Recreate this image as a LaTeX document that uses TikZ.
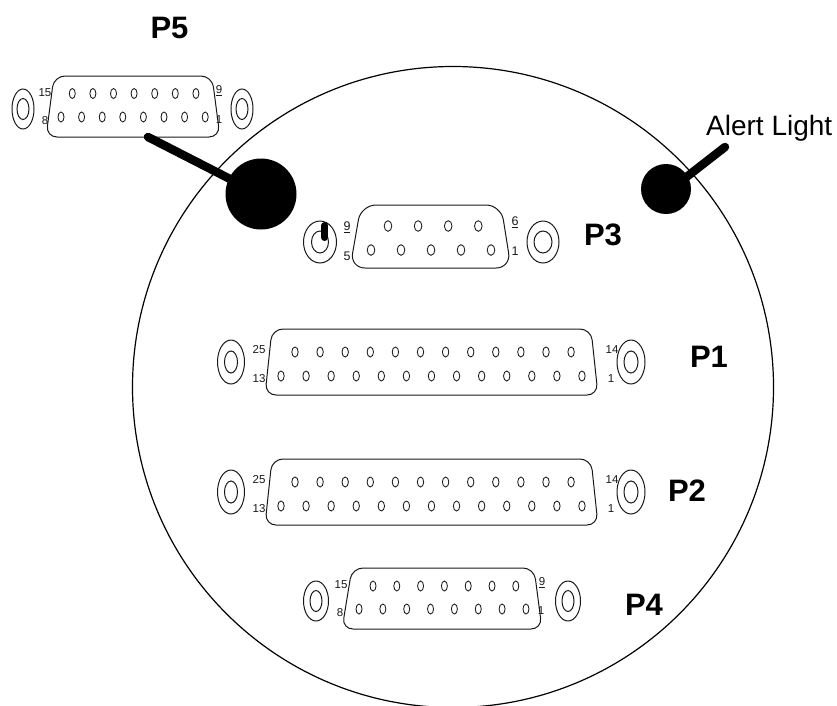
\documentclass[tikz,border=0pt]{standalone}
\usepackage{fontspec}
\setmainfont{Liberation Sans}
\tikzset{
  x=1pt,y=-1pt,
  shell/.style={draw=black!90,line width=1pt,rounded corners=#1},
  pin/.style={draw=black!90,line width=0.85pt},
  tiny/.style={inner sep=0pt,font=\fontsize{11.5}{13}\selectfont,text=black!90},
  tinybig/.style={inner sep=0pt,font=\fontsize{12.5}{14}\selectfont,text=black!90},
  plabel/.style={inner sep=0pt,font=\fontsize{31}{33}\bfseries\selectfont},
  cord/.style={line width=8.5pt,line cap=round},
  mount/.style={draw=black!90,line width=1pt},
}
% #1 TLx #2 TRx #3 BRx #4 BLx #5 top #6 bottom #7 radius
\newcommand{\shellbody}[7]{\draw[shell=#7] (#1,#5) -- (#2,#5) -- (#3,#6) -- (#4,#6) -- cycle;}
% #1 first x #2 step #3 count-1 #4 y #5 x radius #6 y radius
\newcommand{\pinrow}[6]{\foreach \k in {0,...,#3}{\draw[pin] ({#1+\k*#2},#4) ellipse [x radius=#5,y radius=#6];}}
% #1 x #2 y #3 rx #4 ry #5 inner rx #6 inner ry
\newcommand{\mountpt}[6]{\draw[mount] (#1,#2) ellipse [x radius=#3,y radius=#4]; \draw[mount] (#1,#2) ellipse [x radius=#5,y radius=#6];}
\begin{document}
\begin{tikzpicture}
\useasboundingbox (0,0) rectangle (837,705);
\begin{scope}
\clip (0,0) rectangle (837,705);
\draw[line width=1.2pt] (453,387) circle [radius=320.5];
\end{scope}
% P5
\shellbody{54}{212}{220}{46}{76}{137}{11}
\pinrow{72.3}{20.6}{6}{93.5}{3}{5}
\pinrow{61}{20.6}{7}{117}{3}{5}
\mountpt{23}{109}{11}{20}{6}{10.5}
\mountpt{242}{109}{11}{20}{6}{10.5}
\node[tiny] (p5a) at (45,93) {15};
\node[tiny] (p5b) at (45,121) {8};
\node[tiny] (p5c) at (219,91) {\underline{9}};
\node[tiny] (p5d) at (219,120) {1};
\node[plabel] (p5) at (169.5,28) {P5};
% big button and cords
\fill (261,194) circle [radius=35.5];
\draw[cord] (148,137) -- (232,180);
\fill (666,189) circle [radius=25];
\draw[cord] (725,147) -- (680,182);
\node[inner sep=0pt,anchor=base west,font=\fontsize{28}{30}\selectfont] (alert) at (706,135) {Alert Light};
% P3
\shellbody{361}{501}{511}{350}{205}{268}{15}
\pinrow{388}{30.1}{3}{226}{3.8}{5.3}
\pinrow{371}{30}{4}{250}{3.8}{5.3}
\mountpt{320}{242}{16.5}{21}{8.5}{11}
\mountpt{543}{242}{16}{21}{9}{11}
\draw[line width=7pt,line cap=round] (324.7,225.5) -- (324.7,237.5);
\node[tinybig] (p3a) at (347,227) {\underline{9}};
\node[tinybig] (p3b) at (347,256) {5};
\node[tinybig] (p3c) at (515,222) {\underline{6}};
\node[tinybig] (p3d) at (515,251) {1};
\node[plabel] (p3) at (603,235) {P3};
% P1
\shellbody{272}{591}{598}{265}{329}{395}{11}
\pinrow{295}{25.1}{11}{352}{3.2}{5}
\pinrow{281}{25.08}{12}{376}{3.2}{5}
\mountpt{231}{362}{13.5}{22}{6.5}{11}
\mountpt{631}{362}{14}{22}{7}{11}
\node[tiny] (p1a) at (259,350) {25};
\node[tiny] (p1b) at (259,379) {13};
\node[tiny] (p1c) at (612,350) {14};
\node[tiny] (p1d) at (611,379) {1};
\node[plabel] (p1) at (709,357) {P1};
% P2
\shellbody{272}{591}{598}{265}{459}{525}{11}
\pinrow{295}{25.1}{11}{482}{3.2}{5}
\pinrow{281}{25.08}{12}{506}{3.2}{5}
\mountpt{231}{492}{13.5}{22}{6.5}{11}
\mountpt{631}{492}{14}{22}{7}{11}
\node[tiny] (p2a) at (259,480) {25};
\node[tiny] (p2b) at (259,509) {13};
\node[tiny] (p2c) at (612,480) {14};
\node[tiny] (p2d) at (611,509) {1};
\node[plabel] (p2) at (687,491) {P2};
% P4
\shellbody{352}{534}{542}{342}{568}{629}{11}
\pinrow{373}{23.8}{6}{586}{3}{5}
\pinrow{359}{23.85}{7}{609}{3}{5}
\mountpt{316}{601}{12.5}{20}{6}{10.5}
\mountpt{568}{601}{12.5}{20}{6}{10.5}
\node[tiny] (p4a) at (341,585) {15};
\node[tiny] (p4b) at (340,613) {8};
\node[tiny] (p4c) at (542,583) {\underline{9}};
\node[tiny] (p4d) at (541,611) {1};
\node[plabel] (p4) at (644,605) {P4};
\end{tikzpicture}
\end{document}
